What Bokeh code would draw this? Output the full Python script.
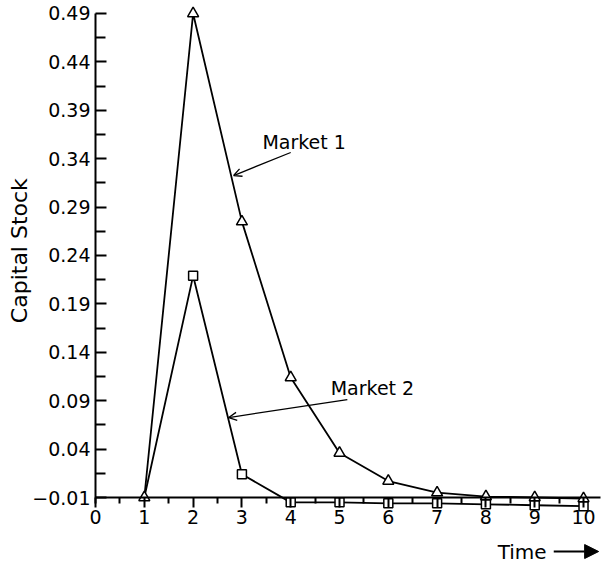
from bokeh.plotting import figure
from bokeh.models import (Range1d, FixedTicker, Label, Arrow, OpenHead, NormalHead)
from bokeh.embed import file_html
from bokeh.resources import INLINE

# ---- data ----
time = [1, 2, 3, 4, 5, 6, 7, 8, 9, 10]
market1 = [-0.010, 0.490, 0.275, 0.114, 0.036, 0.007, -0.005, -0.009, -0.010, -0.011]
market2 = [-0.010, 0.219, 0.014, -0.015, -0.015, -0.016, -0.016, -0.017, -0.018, -0.019]
y_ticks = [-0.01, 0.04, 0.09, 0.14, 0.19, 0.24, 0.29, 0.34, 0.39, 0.44, 0.49]
y_tick_labels = ["\u22120.01", "0.04", "0.09", "0.14", "0.19", "0.24", "0.29", "0.34", "0.39", "0.44", "0.49"]
x_ticks = [0, 1, 2, 3, 4, 5, 6, 7, 8, 9, 10]
x_tick_labels = ["0", "1", "2", "3", "4", "5", "6", "7", "8", "9", "10"]

FONT = "DejaVu Sans"

p = figure(width=602, height=564, output_backend="svg", toolbar_location=None,
           x_range=Range1d(-1.947, 10.389), y_range=Range1d(-0.0792, 0.5034),
           min_border_left=0, min_border_right=0, min_border_top=0, min_border_bottom=0)
p.outline_line_color = None
p.grid.visible = False
p.background_fill_color = "white"
p.border_fill_color = "white"

# y axis placed at x = 0
ya = p.yaxis[0]
ya.fixed_location = 0
ya.ticker = FixedTicker(ticks=y_ticks,
                        minor_ticks=[round(v + 0.025, 3) for v in y_ticks[:-1]])
ya.major_label_overrides = {v: s for v, s in zip(y_ticks, y_tick_labels)}
ya.bounds = (-0.0165, 0.49)
ya.axis_line_width = 2
ya.major_tick_line_width = 2
ya.minor_tick_line_width = 2
ya.major_tick_in = 11
ya.major_tick_out = 0
ya.minor_tick_in = 10
ya.minor_tick_out = 0
ya.major_label_text_font = FONT
ya.major_label_text_font_size = "19px"
ya.major_label_text_color = "black"
ya.major_label_standoff = 5

# x axis placed at y = -0.01
xa = p.xaxis[0]
xa.fixed_location = -0.01
xa.ticker = FixedTicker(ticks=x_ticks, minor_ticks=[v + 0.5 for v in x_ticks[:-1]])
xa.major_label_overrides = {v: s for v, s in zip(x_ticks, x_tick_labels)}
xa.bounds = (0, 10.35)
xa.axis_line_width = 2
xa.major_tick_line_width = 2
xa.minor_tick_line_width = 2
xa.major_tick_in = 0
xa.major_tick_out = 10
xa.minor_tick_in = 0
xa.minor_tick_out = 6
xa.major_label_text_font = FONT
xa.major_label_text_font_size = "19px"
xa.major_label_text_color = "black"
xa.major_label_standoff = 2

# series
p.line(time, market1, line_color="black", line_width=1.8)
p.line(time, market2, line_color="black", line_width=1.8)
p.scatter(time[1:], market2[1:], marker="square", size=9, fill_color="white",
          line_color="black", line_width=1.5)
p.scatter(time, market1, marker="triangle", size=11, fill_color="white",
          line_color="black", line_width=1.5)

# annotations
p.add_layout(Label(x=3.42, y=0.357, text="Market 1", text_font=FONT,
                   text_font_size="19px", text_baseline="middle", text_color="black"))
p.add_layout(Label(x=4.82, y=0.1036, text="Market 2", text_font=FONT,
                   text_font_size="19px", text_baseline="middle", text_color="black"))
p.add_layout(Arrow(x_start=4.0, y_start=0.3464, x_end=2.83, y_end=0.3226,
                   line_width=1.3, end=OpenHead(size=8, line_width=1.3)))
p.add_layout(Arrow(x_start=5.16, y_start=0.0912, x_end=2.73, y_end=0.0726,
                   line_width=1.3, end=OpenHead(size=8, line_width=1.3)))

p.add_layout(Label(x=-1.55, y=0.245, text="Capital Stock", angle=1.5708,
                   text_font=FONT, text_font_size="22px", text_align="center",
                   text_baseline="middle", text_color="black"))
p.add_layout(Label(x=8.24, y=-0.0658, text="Time", text_font=FONT,
                   text_font_size="20px", text_baseline="middle", text_color="black"))
p.add_layout(Arrow(x_start=9.39, y_start=-0.0658, x_end=10.31, y_end=-0.0658,
                   line_width=2, end=NormalHead(size=14, fill_color="black",
                                                line_color="black")))

open("out.html", "w").write(file_html(p, INLINE))
